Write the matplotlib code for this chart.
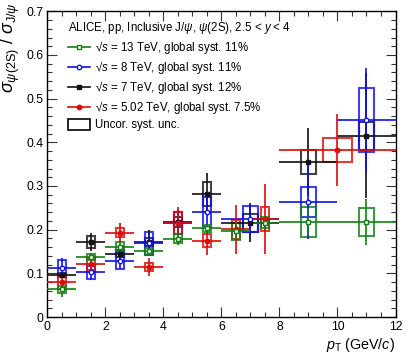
import matplotlib
matplotlib.use('Agg')
import matplotlib.pyplot as plt
import numpy as np
from matplotlib.patches import Rectangle
from matplotlib.lines import Line2D
from matplotlib.legend_handler import HandlerPatch
from matplotlib.ticker import MultipleLocator, FuncFormatter

plt.rcParams['font.family'] = ['Liberation Sans', 'DejaVu Sans']
plt.rcParams['mathtext.fontset'] = 'custom'
plt.rcParams['mathtext.rm'] = 'Liberation Sans'
plt.rcParams['mathtext.it'] = 'Liberation Sans:italic'
plt.rcParams['mathtext.bf'] = 'Liberation Sans:bold'

# ---------------- data ----------------
# 13 TeV
lo_13 = [0, 1, 2, 3, 4, 5, 6, 7, 8, 10]
hi_13 = [1, 2, 3, 4, 5, 6, 7, 8, 10, 12]
r_13 = [0.064, 0.137, 0.161, 0.151, 0.179, 0.203, 0.196, 0.216, 0.218, 0.218]
stat_13 = [0.019, 0.009, 0.010, 0.008, 0.013, 0.010, 0.020, 0.016, 0.030, 0.052]
syst_13 = [0.008, 0.007, 0.010, 0.008, 0.010, 0.008, 0.020, 0.012, 0.034, 0.032]
# 8 TeV
lo_8 = [0, 1, 2, 3, 4, 5, 6, 8, 10]
hi_8 = [1, 2, 3, 4, 5, 6, 8, 10, 12]
r_8 = [0.113, 0.102, 0.129, 0.169, 0.215, 0.241, 0.224, 0.264, 0.451]
stat_8 = [0.022, 0.017, 0.020, 0.020, 0.030, 0.040, 0.036, 0.085, 0.120]
syst_8 = [0.017, 0.015, 0.019, 0.026, 0.025, 0.034, 0.030, 0.034, 0.074]
# 7 TeV
lo_7 = [0, 1, 2, 3, 4, 5, 6, 8, 10]
hi_7 = [1, 2, 3, 4, 5, 6, 8, 10, 12]
r_7 = [0.096, 0.172, 0.145, 0.172, 0.218, 0.282, 0.215, 0.355, 0.415]
stat_7 = [0.006, 0.021, 0.015, 0.028, 0.025, 0.048, 0.043, 0.077, 0.143]
syst_7 = [0.004, 0.014, 0.008, 0.010, 0.012, 0.028, 0.020, 0.028, 0.032]
# 5.02 TeV
lo_5 = [0, 1, 2, 3, 4, 5, 6, 7, 8]
hi_5 = [1, 2, 3, 4, 5, 6, 7, 8, 12]
r_5 = [0.079, 0.121, 0.193, 0.115, 0.215, 0.175, 0.201, 0.224, 0.382]
stat_5 = [0.021, 0.019, 0.022, 0.021, 0.038, 0.034, 0.056, 0.080, 0.082]
syst_5 = [0.015, 0.013, 0.010, 0.009, 0.025, 0.014, 0.022, 0.028, 0.028]

labels = ['\u221a$s$ = 13 TeV, global syst. 11%',
          '\u221a$s$ = 8 TeV, global syst. 11%',
          '\u221a$s$ = 7 TeV, global syst. 12%',
          '\u221a$s$ = 5.02 TeV, global syst. 7.5%']
header = r'ALICE, pp, Inclusive J/$\psi$, $\psi$(2S), 2.5 < $y$ < 4'

c13, c8, c7, c5 = '#137f13', '#1010e8', '#111111', '#dd0a0a'

fig = plt.figure(figsize=(4.07, 3.63), dpi=100)
ax = fig.add_axes([47.3/407, 1-317/363, (395.5-47.3)/407, (317-11.3)/363])


def draw(lo, hi, val, stat, syst, color, marker, mfc):
    lo = np.asarray(lo, float); hi = np.asarray(hi, float)
    val = np.asarray(val); stat = np.asarray(stat); syst = np.asarray(syst)
    pt = 0.5*(lo+hi)
    bw = hi-lo
    boxw = np.where(bw <= 1, 0.28, bw/4)
    for x, v, s, w in zip(pt, val, syst, boxw):
        ax.add_patch(Rectangle((x-w/2, v-s), w, 2*s, fill=False, ec=color,
                               lw=1.5, alpha=0.8, zorder=2))
    ax.errorbar(pt, val, xerr=[pt-lo, hi-pt], yerr=stat, fmt=marker,
                color=color, mfc=mfc, mec=color, ms=3.2, mew=1.0,
                elinewidth=1.2, capsize=0, zorder=3)


draw(lo_7, hi_7, r_7, stat_7, syst_7, c7, 's', c7)
draw(lo_8, hi_8, r_8, stat_8, syst_8, c8, 'o', 'white')
draw(lo_5, hi_5, r_5, stat_5, syst_5, c5, 'o', c5)
draw(lo_13, hi_13, r_13, stat_13, syst_13, c13, 's', 'white')

ax.set_xlim(0, 12)
ax.set_ylim(0, 0.7)
ax.xaxis.set_major_locator(MultipleLocator(2))
ax.xaxis.set_minor_locator(MultipleLocator(0.5))
ax.yaxis.set_major_locator(MultipleLocator(0.1))
ax.yaxis.set_minor_locator(MultipleLocator(0.02))
ax.yaxis.set_major_formatter(FuncFormatter(lambda v, p: '0' if abs(v) < 1e-9 else f'{v:.1f}'))
ax.tick_params(which='both', direction='in', top=True, right=True, width=0.8,
               labelsize=8.8, color='#333333')
ax.tick_params(which='major', length=7, pad=3)
ax.tick_params(which='minor', length=3.5)
for sp in ax.spines.values():
    sp.set_linewidth(1.0)

ax.set_xlabel(r'$p_{\mathrm{T}}$ (GeV/$c$)', fontsize=10.3, loc='right', labelpad=2)
ax.set_ylabel(r'$\sigma_{\psi(\mathrm{2S})}\ /\ \sigma_{\mathrm{J}/\psi}$', fontsize=13,
              loc='top', labelpad=2)
ax.yaxis.set_label_coords(-0.073, 1.03)

handles = [Line2D([], [], color=c13, marker='s', mfc='white', mec=c13, ms=3.2, lw=1.2),
           Line2D([], [], color=c8, marker='o', mfc='white', mec=c8, ms=3.2, lw=1.2),
           Line2D([], [], color=c7, marker='s', mfc=c7, mec=c7, ms=3.2, lw=1.2),
           Line2D([], [], color=c5, marker='o', mfc=c5, mec=c5, ms=3.2, lw=1.2)]
box_handle = Rectangle((0, 0), 1, 1, fill=False, ec='black', lw=1.2)


def make_box(legend, orig_handle, xdescent, ydescent, width, height, fontsize):
    return Rectangle((-xdescent, -ydescent - 0.25*height), width, height*1.45)


leg = ax.legend(handles + [box_handle], labels + ['Uncor. syst. unc.'],
                loc='upper left', bbox_to_anchor=(0.0594, 0.972), frameon=False,
                fontsize=8.3, title=header, title_fontsize=8.3, alignment='left',
                handlelength=1.9, handletextpad=0.45, labelspacing=0.27,
                borderpad=0, borderaxespad=0,
                handler_map={box_handle: HandlerPatch(patch_func=make_box)})

fig.savefig('out.png', dpi=100)
